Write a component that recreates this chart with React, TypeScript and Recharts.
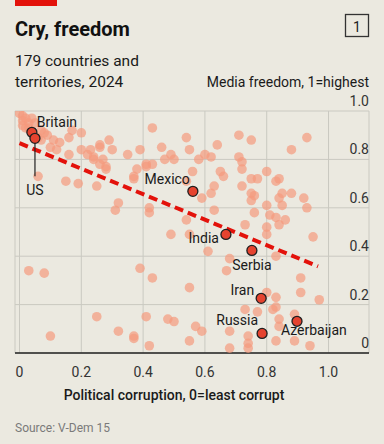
import { ScatterChart, Scatter, XAxis, YAxis, CartesianGrid } from "recharts";

// corruption (0=least corrupt), media freedom (1=highest)
const otherCountries: [number, number][] = [
  [0.0, 0.99], [0.01, 0.98], [0.02, 0.97], [0.01, 0.96], [0.03, 0.95], [0.02, 0.93], [0.03, 0.93],
  [0.07, 0.92], [0.08, 0.91], [0.06, 0.89], [0.09, 0.9], [0.07, 0.88], [0.04, 0.97], [0.05, 0.95],
  [0.01, 0.94], [0.11, 0.88], [0.13, 0.87], [0.17, 0.92], [0.2, 0.91], [0.16, 0.89], [0.29, 0.88],
  [0.1, 0.85], [0.12, 0.84], [0.16, 0.82], [0.2, 0.84], [0.23, 0.84], [0.26, 0.85], [0.3, 0.84],
  [0.22, 0.82], [0.24, 0.81], [0.27, 0.8], [0.26, 0.78], [0.28, 0.77], [0.35, 0.82], [0.26, 0.86],
  [0.28, 0.76], [0.24, 0.8], [0.06, 0.73], [0.15, 0.71], [0.19, 0.7], [0.25, 0.69], [0.32, 0.62],
  [0.31, 0.59], [0.43, 0.93], [0.54, 0.89], [0.39, 0.84], [0.46, 0.85], [0.49, 0.82], [0.55, 0.84],
  [0.47, 0.8], [0.5, 0.8], [0.41, 0.78], [0.43, 0.78], [0.41, 0.77], [0.38, 0.76], [0.37, 0.73],
  [0.37, 0.72], [0.56, 0.75], [0.42, 0.6], [0.71, 0.9], [0.64, 0.86], [0.75, 0.88], [0.58, 0.8],
  [0.6, 0.82], [0.62, 0.81], [0.71, 0.81], [0.72, 0.79], [0.72, 0.76], [0.65, 0.75], [0.66, 0.73],
  [0.54, 0.71], [0.63, 0.69], [0.72, 0.69], [0.62, 0.66], [0.59, 0.64], [0.63, 0.59], [0.42, 0.58],
  [0.54, 0.55], [0.73, 0.53], [0.93, 0.89], [0.88, 0.84], [0.8, 0.75], [0.75, 0.72], [0.77, 0.72],
  [0.83, 0.71], [0.84, 0.72], [0.75, 0.66], [0.76, 0.65], [0.75, 0.63], [0.85, 0.66], [0.88, 0.66],
  [0.92, 0.64], [0.84, 0.64], [0.8, 0.61], [0.85, 0.61], [0.93, 0.6], [0.76, 0.58], [0.81, 0.57],
  [0.83, 0.56], [0.86, 0.55], [0.8, 0.52], [0.84, 0.53], [0.8, 0.49], [0.95, 0.48], [0.55, 0.49],
  [0.49, 0.49], [0.61, 0.42], [0.68, 0.39], [0.67, 0.34], [0.83, 0.4], [0.91, 0.31], [0.91, 0.25],
  [0.97, 0.22], [0.8, 0.25], [0.83, 0.23], [0.73, 0.18], [0.77, 0.17], [0.82, 0.18], [0.83, 0.19],
  [0.84, 0.14], [0.89, 0.16], [0.84, 0.11], [0.57, 0.11], [0.59, 0.09], [0.55, 0.05], [0.68, 0.09],
  [0.74, 0.07], [0.74, 0.04], [0.74, 0.02], [0.68, 0.02], [0.89, 0.05], [0.94, 0.03], [0.83, 0.05],
  [0.39, 0.35], [0.43, 0.31], [0.55, 0.27], [0.03, 0.34], [0.08, 0.33], [0.25, 0.15], [0.32, 0.09],
  [0.37, 0.07], [0.37, 0.06], [0.1, 0.07], [0.41, 0.15], [0.48, 0.14], [0.5, 0.13], [0.42, 0.03],
];

const highlightNames = ["Britain", "US", "Mexico", "India", "Serbia", "Iran", "Russia", "Azerbaijan"];
const highlightCorruption = [0.04, 0.05, 0.561, 0.668, 0.752, 0.782, 0.785, 0.898];
const highlightMedia = [0.912, 0.887, 0.668, 0.49, 0.424, 0.226, 0.081, 0.131];

const trendCorruption = [0, 0.966];
const trendMedia = [0.867, 0.358];

const xTicks = [0, 0.2, 0.4, 0.6, 0.8, 1.0];
const yTicks = [0, 0.2, 0.4, 0.6, 0.8, 1.0];

// label placement relative to each dot
const labelPlace: Record<string, { dx: number; dy: number; anchor: string; leader?: number }> = {
  Britain: { dx: 5, dy: -5, anchor: "start" },
  US: { dx: 0, dy: 57, anchor: "middle", leader: 38 },
  Mexico: { dx: -3, dy: -7, anchor: "end" },
  India: { dx: -7, dy: 9, anchor: "end" },
  Serbia: { dx: 0, dy: 20, anchor: "middle" },
  Iran: { dx: -7, dy: -3, anchor: "end" },
  Russia: { dx: -4, dy: -8, anchor: "end" },
  Azerbaijan: { dx: -16, dy: 14, anchor: "start" },
};

const W = 384;
const H = 444;
const BG = "#ebe9e0";
const FONT = "Roboto, sans-serif";
const MARGIN = { top: 111, right: 14, bottom: 61, left: 15 };
const PLOT_BOTTOM = H - MARGIN.bottom - 30;
const PLOT_RIGHT = 369;

const dots = otherCountries.map(([x, y]) => ({ x, y }));
const highlights = highlightNames.map((name, i) => ({ name, x: highlightCorruption[i], y: highlightMedia[i] }));
const trend = trendCorruption.map((x, i) => ({ x, y: trendMedia[i] }));

const XTick = ({ x, payload }: any) => (
  <text x={x} y={PLOT_BOTTOM + 24} textAnchor="middle" fontSize={14} fill="#333" fontFamily={FONT}>
    {payload.value === 0 ? "0" : payload.value.toFixed(1)}
  </text>
);

const YTick = ({ y, payload }: any) => (
  <text x={PLOT_RIGHT} y={y - 5} textAnchor="end" fontSize={14} fill="#333" fontFamily={FONT}>
    {payload.value === 0 ? "0" : payload.value.toFixed(1)}
  </text>
);

const BgDot = ({ cx, cy }: any) => <circle cx={cx} cy={cy} r={4.8} fill="#f59a7e" fillOpacity={0.7} />;

const HighlightDot = ({ cx, cy, payload }: any) => {
  const p = labelPlace[payload.name];
  return (
    <g>
      {p.leader ? <line x1={cx} y1={cy} x2={cx} y2={cy + p.leader} stroke="#222" strokeWidth={1.2} /> : null}
      <circle cx={cx} cy={cy} r={5} fill="#e5432f" stroke="#1f1f1f" strokeWidth={1.3} />
      <text x={cx + p.dx} y={cy + p.dy} textAnchor={p.anchor} fontSize={14} fill="#1a1a1a" fontFamily={FONT}>
        {payload.name}
      </text>
    </g>
  );
};

export default function App() {
  return (
    <div style={{ position: "absolute", left: 0, top: 0, width: W, height: H, background: BG, fontFamily: FONT }}>
      <svg width={W} height={H} style={{ position: "absolute", left: 0, top: 0 }}>
        <rect x={15} y={0} width={42} height={6} fill="#e3120b" />
        <text x={15} y={36} fontSize={20} fontWeight={700} fill="#111">Cry, freedom</text>
        <rect x={345.5} y={14.5} width={23} height={22} fill="none" stroke="#333" strokeWidth={1.3} />
        <text x={357} y={32} fontSize={14} textAnchor="middle" fill="#222">1</text>
        <text x={15} y={66} fontSize={15.5} fill="#1a1a1a">179 countries and</text>
        <text x={15} y={87} fontSize={15.5} fill="#1a1a1a">territories, 2024</text>
        <text x={369} y={87} fontSize={14} textAnchor="end" fill="#1a1a1a">Media freedom, 1=highest</text>
        <text x={174} y={400} fontSize={14} fontWeight={500} textAnchor="middle" fill="#1a1a1a">
          Political corruption, 0=least corrupt
        </text>
        <text x={15} y={432} fontSize={12} fill="#7a7a7a">Source: V-Dem 15</text>
      </svg>
      <div style={{ position: "absolute", left: 0, top: 0 }}>
        <ScatterChart width={W} height={H} margin={MARGIN}>
          <CartesianGrid stroke="#cac9c1" strokeWidth={1} />
          <XAxis
            type="number"
            dataKey="x"
            domain={[-0.0146, 1.131]}
            ticks={xTicks}
            interval={0}
            height={30}
            allowDataOverflow
            tickLine={false}
            axisLine={{ stroke: "#222", strokeWidth: 1.5 }}
            tick={<XTick />}
          />
          <YAxis
            type="number"
            dataKey="y"
            orientation="right"
            width={1}
            domain={[0, 1]}
            ticks={yTicks}
            interval={0}
            allowDataOverflow
            axisLine={false}
            tickLine={false}
            tick={<YTick />}
          />
          <Scatter data={dots} shape={<BgDot />} isAnimationActive={false} />
          <Scatter
            data={trend}
            shape={() => <g />}
            line={{ stroke: "#e3120b", strokeWidth: 4, strokeDasharray: "9 5" }}
            lineType="joint"
            isAnimationActive={false}
          />
          <Scatter data={highlights} shape={<HighlightDot />} isAnimationActive={false} />
        </ScatterChart>
      </div>
    </div>
  );
}
